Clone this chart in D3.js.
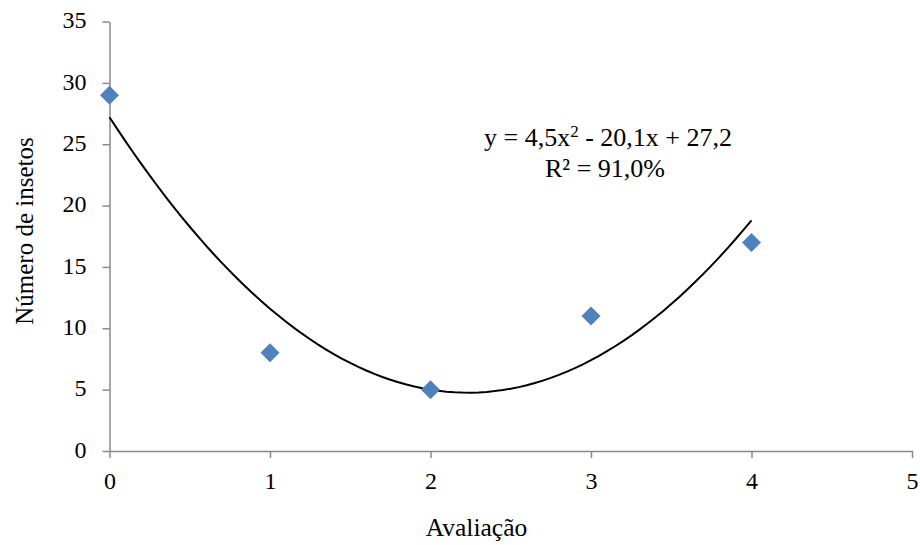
<!DOCTYPE html>
<html>
<head>
<meta charset="utf-8">
<script src="https://cdn.jsdelivr.net/npm/d3@7"></script>
<style>
  body { margin: 0; background: #fff; }
</style>
</head>
<body>
<div id="chart"></div>
<script>
// data
const avaliacao = [0, 1, 2, 3, 4];
const insetos = [29, 8, 5, 11, 17];
// trendline coefficients shown on the chart (a, b, c in a*x^2 + b*x + c)
const coef = [4.5, -20.1, 27.2];
const xTicks = [0, 1, 2, 3, 4, 5];
const yTicks = [0, 5, 10, 15, 20, 25, 30, 35];

const width = 920, height = 545;
const axisColor = "#898989";
const blue = "#4F81BD";
const serif = "Liberation Serif, Times New Roman, serif";

const svg = d3.select("#chart").append("svg")
  .attr("width", width).attr("height", height)
  .attr("font-family", serif);

const x = d3.scaleLinear().domain([0, 5]).range([109.5, 912]);
const y = d3.scaleLinear().domain([0, 35]).range([451, 21.5]);

// x axis
const gx = svg.append("g")
  .attr("transform", `translate(0,${y(0)})`)
  .call(d3.axisBottom(x).tickValues(xTicks).tickFormat(d3.format("d"))
    .tickSize(7).tickSizeOuter(0).tickPadding(14));
gx.attr("font-family", serif).attr("font-size", 24);
gx.select(".domain").attr("stroke", axisColor).attr("stroke-width", 1.5);
gx.selectAll(".tick line").attr("stroke", axisColor).attr("stroke-width", 1.5);
gx.selectAll(".tick text").attr("fill", "#000");

// y axis
const gy = svg.append("g")
  .attr("transform", `translate(${x(0)},0)`)
  .call(d3.axisLeft(y).tickValues(yTicks).tickFormat(d3.format("d"))
    .tickSize(7).tickSizeOuter(0).tickPadding(16));
gy.attr("font-family", serif).attr("font-size", 24);
gy.select(".domain").attr("stroke", axisColor).attr("stroke-width", 1.5);
gy.selectAll(".tick line").attr("stroke", axisColor).attr("stroke-width", 1.5);
gy.selectAll(".tick text").attr("fill", "#000").attr("dy", "0.26em");

// trendline
const curvePts = d3.range(0, 4.0001, 0.05).map(v => [v, coef[0]*v*v + coef[1]*v + coef[2]]);
svg.append("path")
  .datum(curvePts)
  .attr("fill", "none")
  .attr("stroke", "#000")
  .attr("stroke-width", 2)
  .attr("d", d3.line().x(d => x(d[0])).y(d => y(d[1])));

// markers (diamonds)
svg.selectAll("path.pt")
  .data(avaliacao.map((a, i) => [a, insetos[i]]))
  .enter().append("path")
  .attr("class", "pt")
  .attr("d", d3.symbol(d3.symbolDiamond2, 230)())
  .attr("transform", d => `translate(${x(d[0])},${y(d[1])})`)
  .attr("fill", blue);

// equation
const eq = svg.append("text").attr("x", 608).attr("y", 146)
  .attr("text-anchor", "middle").attr("font-size", 26);
eq.append("tspan").text("y = 4,5x");
eq.append("tspan").text("2").attr("dy", -9).attr("font-size", 17);
eq.append("tspan").text(" - 20,1x + 27,2").attr("dy", 9);

svg.append("text").attr("x", 605).attr("y", 177)
  .attr("text-anchor", "middle").attr("font-size", 26)
  .text("R² = 91,0%");

// axis titles
svg.append("text")
  .attr("x", 476.5).attr("y", 536)
  .attr("text-anchor", "middle").attr("font-size", 25.5)
  .text("Avaliação");

svg.append("text")
  .attr("transform", "translate(33,231) rotate(-90)")
  .attr("text-anchor", "middle").attr("font-size", 25)
  .text("Número de insetos");
</script>
</body>
</html>
